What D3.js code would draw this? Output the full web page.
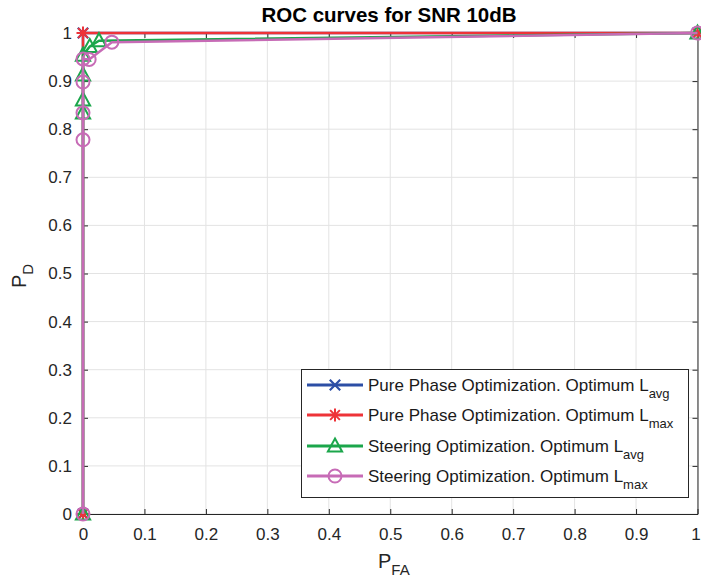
<!DOCTYPE html>
<html>
<head>
<meta charset="utf-8">
<script src="https://cdnjs.cloudflare.com/ajax/libs/d3/7.8.5/d3.min.js"></script>
<style>
  html, body { margin: 0; padding: 0; background: #fff; }
  svg { display: block; font-family: "Liberation Sans", Arial, Helvetica, sans-serif; }
</style>
</head>
<body>
<svg id="chart" width="701" height="583"></svg>
<script>
// ROC curves (probability of false alarm vs probability of detection)
const pureAvgPfa = [0, 0, 1];
const pureAvgPd  = [0, 1, 1];

const pureMaxPfa = [0, 0, 1];
const pureMaxPd  = [0, 1, 1];

const steerAvgPfa = [0, 0, 0, 0, 0, 0.011, 0.026, 1];
const steerAvgPd  = [0, 0.834, 0.861, 0.913, 0.954, 0.972, 0.984, 1];

const steerMaxPfa = [0, 0, 0, 0, 0, 0.010, 0.047, 1];
const steerMaxPd  = [0, 0.778, 0.834, 0.898, 0.946, 0.945, 0.981, 1];

const tickValues = [0, 0.1, 0.2, 0.3, 0.4, 0.5, 0.6, 0.7, 0.8, 0.9, 1];
const tickLabels = ["0", "0.1", "0.2", "0.3", "0.4", "0.5", "0.6", "0.7", "0.8", "0.9", "1"];

const seriesNames = [
  ["Pure Phase Optimization. Optimum L", "avg"],
  ["Pure Phase Optimization. Optimum L", "max"],
  ["Steering Optimization. Optimum L", "avg"],
  ["Steering Optimization. Optimum L", "max"]
];

const series = [
  { pfa: pureAvgPfa,  pd: pureAvgPd,  color: "#2c4ea5", marker: "x" },
  { pfa: pureMaxPfa,  pd: pureMaxPd,  color: "#ee3338", marker: "star" },
  { pfa: steerAvgPfa, pd: steerAvgPd, color: "#1ba64b", marker: "tri" },
  { pfa: steerMaxPfa, pd: steerMaxPd, color: "#c76bb6", marker: "circle" }
];

const svg = d3.select("#chart");
const plotL = 83, plotR = 697.5, plotT = 33, plotB = 514;
const x = d3.scaleLinear().domain([0, 1]).range([plotL, plotR]);
const y = d3.scaleLinear().domain([0, 1]).range([plotB, plotT]);
const axisColor = "#262626";

// grid
const grid = svg.append("g");
grid.selectAll("line.gx").data(tickValues).join("line")
  .attr("x1", d => x(d)).attr("x2", d => x(d))
  .attr("y1", plotT).attr("y2", plotB)
  .attr("stroke", "#e3e3e3").attr("stroke-width", 1);
grid.selectAll("line.gy").data(tickValues).join("line")
  .attr("y1", d => y(d)).attr("y2", d => y(d))
  .attr("x1", plotL).attr("x2", plotR)
  .attr("stroke", "#e3e3e3").attr("stroke-width", 1);

// axes with inward ticks
const fmt = d => tickLabels[tickValues.indexOf(d)];
const xAxis = d3.axisBottom(x).tickValues(tickValues).tickFormat(fmt).tickSizeInner(-5).tickSizeOuter(0).tickPadding(14);
const yAxis = d3.axisLeft(y).tickValues(tickValues).tickFormat(fmt).tickSizeInner(-5).tickSizeOuter(0).tickPadding(11);
const xTop = d3.axisTop(x).tickValues(tickValues).tickFormat("").tickSizeInner(-5).tickSizeOuter(0);
const yRight = d3.axisRight(y).tickValues(tickValues).tickFormat("").tickSizeInner(-5).tickSizeOuter(0);

function styleAxis(g) {
  g.select(".domain").attr("stroke", axisColor);
  g.selectAll(".tick line").attr("stroke", axisColor);
  g.selectAll(".tick text").attr("fill", "#262626").attr("font-size", 17)
    .attr("font-family", "Liberation Sans, Arial, sans-serif");
}
const gx = svg.append("g").attr("transform", `translate(0,${plotB})`).call(xAxis).call(styleAxis);
// keep the last tick label inside the page edge
gx.selectAll(".tick text").filter(d => d === 1).attr("dx", -2);
svg.append("g").attr("transform", `translate(${plotL},0)`).call(yAxis).call(styleAxis);
svg.append("g").attr("transform", `translate(0,${plotT})`).call(xTop).call(styleAxis);
svg.append("g").attr("transform", `translate(${plotR},0)`).call(yRight).call(styleAxis);

// markers
function drawMarker(g, type, cx, cy, color, s) {
  const r = s || 6;
  if (type === "circle") {
    g.append("circle").attr("cx", cx).attr("cy", cy).attr("r", r)
      .attr("fill", "none").attr("stroke", color).attr("stroke-width", 2);
  } else if (type === "tri") {
    const h = r * 1.15;
    g.append("path")
      .attr("d", `M${cx},${cy - h} L${cx + h * 0.95},${cy + h * 0.75} L${cx - h * 0.95},${cy + h * 0.75} Z`)
      .attr("fill", "none").attr("stroke", color).attr("stroke-width", 2).attr("stroke-linejoin", "miter");
  } else if (type === "x") {
    const a = r * 0.8;
    g.append("path").attr("d", `M${cx - a},${cy - a} L${cx + a},${cy + a} M${cx - a},${cy + a} L${cx + a},${cy - a}`)
      .attr("stroke", color).attr("stroke-width", 2.2);
  } else if (type === "star") {
    const a = r * 0.75, b = r;
    g.append("path").attr("d",
      `M${cx - a},${cy - a} L${cx + a},${cy + a} M${cx - a},${cy + a} L${cx + a},${cy - a} M${cx},${cy - b} L${cx},${cy + b} M${cx - b},${cy} L${cx + b},${cy}`)
      .attr("stroke", color).attr("stroke-width", 2);
  }
}

const line = d3.line().x(d => x(d[0])).y(d => y(d[1]));
const plot = svg.append("g");
series.forEach(s => {
  const pts = s.pfa.map((v, i) => [v, s.pd[i]]);
  const g = plot.append("g");
  g.append("path").datum(pts).attr("d", line)
    .attr("fill", "none").attr("stroke", s.color).attr("stroke-width", 2.5)
    .attr("stroke-linejoin", "round");
  pts.forEach(p => drawMarker(g, s.marker, x(p[0]), y(p[1]), s.color, 6.5));
});

// title
svg.append("text").attr("x", 389).attr("y", 21.5).attr("text-anchor", "middle")
  .attr("font-size", 20.5).attr("font-weight", "bold").attr("fill", "#000")
  .text("ROC curves for SNR 10dB");

// axis labels
const xl = svg.append("text").attr("x", 378).attr("y", 568).attr("font-size", 20).attr("fill", "#262626");
xl.append("tspan").text("P");
xl.append("tspan").attr("dy", 7).attr("font-size", 15).text("FA");

const yl = svg.append("text").attr("transform", "translate(26,288) rotate(-90)").attr("font-size", 20).attr("fill", "#262626");
yl.append("tspan").text("P");
yl.append("tspan").attr("dy", 7).attr("font-size", 15).text("D");

// legend
const lg = svg.append("g");
lg.append("rect").attr("x", 301.5).attr("y", 369.5).attr("width", 387).attr("height", 128)
  .attr("fill", "#fff").attr("stroke", axisColor).attr("stroke-width", 1);
const rowY = [385, 415, 446, 476];
series.forEach((s, i) => {
  const yy = rowY[i];
  lg.append("line").attr("x1", 307).attr("x2", 363).attr("y1", yy).attr("y2", yy)
    .attr("stroke", s.color).attr("stroke-width", 3);
  drawMarker(lg, s.marker, 335, yy, s.color, 6.5);
  const t = lg.append("text").attr("x", 368).attr("y", yy + 6).attr("font-size", 17).attr("fill", "#1a1a1a");
  t.append("tspan").text(seriesNames[i][0]);
  t.append("tspan").attr("dy", 7).attr("font-size", 13).text(seriesNames[i][1]);
});
</script>
</body>
</html>
